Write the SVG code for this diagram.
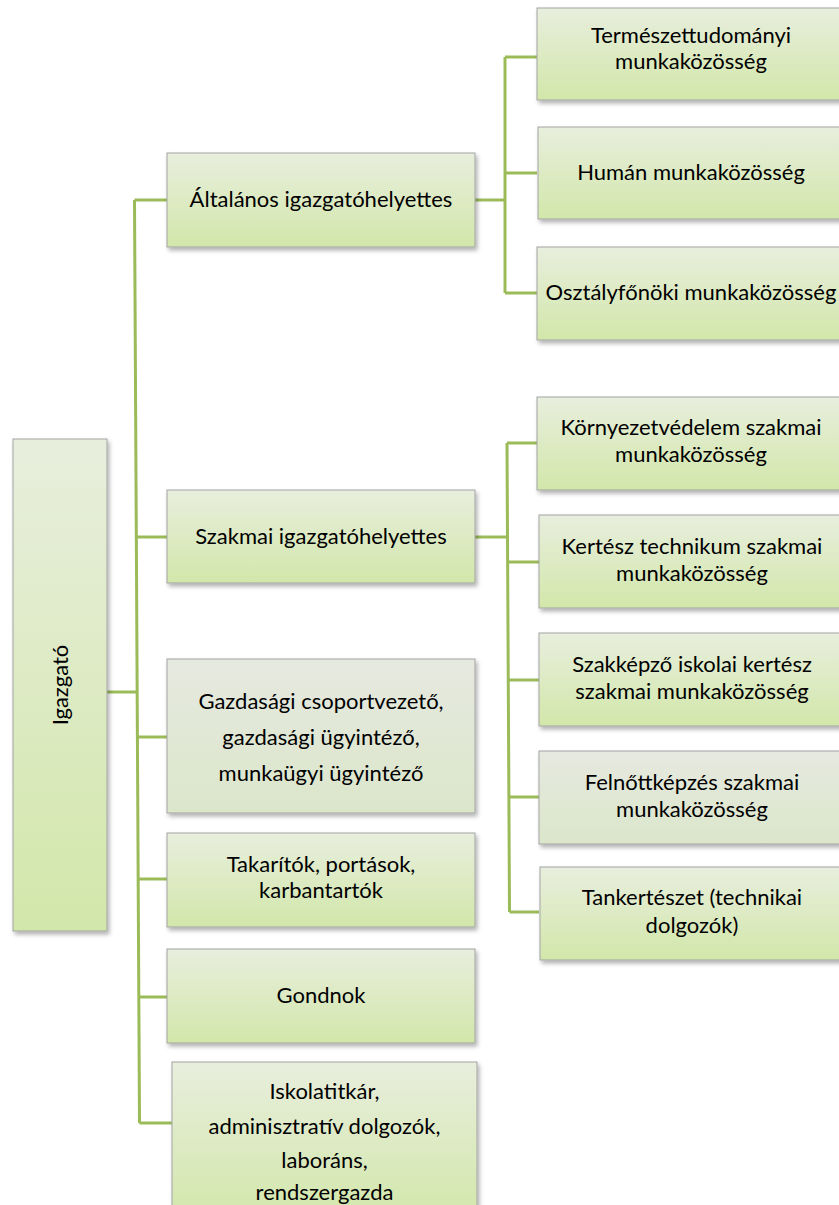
<svg xmlns="http://www.w3.org/2000/svg" width="839" height="1205" viewBox="0 0 839 1205">
<style>
.box{stroke:#a3a3a3;stroke-width:1;filter:url(#sh)}
.t{font-family:Lato,"Liberation Sans",sans-serif;font-size:22px;fill:#000;text-anchor:middle}
.c{stroke:#9bbb59;stroke-width:3;fill:none}
</style>
<defs>
<linearGradient id="g1" x1="0" y1="0" x2="0" y2="1"><stop offset="0" stop-color="#e8eedd"/><stop offset="1" stop-color="#d2e7aa"/></linearGradient>
<linearGradient id="g2" x1="0" y1="0" x2="0" y2="1"><stop offset="0" stop-color="#e6e9e0"/><stop offset="1" stop-color="#dbe6ca"/></linearGradient>
<filter id="sh" x="-10%" y="-10%" width="130%" height="130%"><feDropShadow dx="2" dy="3" stdDeviation="2" flood-color="#000" flood-opacity="0.3"/></filter>
</defs>
<g id="connectors">
<path class="c" d="M107 692H138"/>
<path class="c" d="M134.5 200L139.5 1123"/>
<path class="c" d="M134.5 200H167M136 537H167M137 737H167M138.5 879H167M139 997H167M139.5 1123H172"/>
<path class="c" d="M475 200H505M505 57V293M505 57H537M505 173H537M505 293H537"/>
<path class="c" d="M475 537H507M507 443L509.5 912M507 443H537M507.5 562H539M508 680H539M509 797H539M509.5 912H539"/>
</g>
<g id="igazgato"><rect class="box" x="13" y="439" width="94" height="492" fill="url(#g1)"/><text class="t" transform="translate(68,685) rotate(-90)">Igazgató</text></g>
<g id="altalanos"><rect class="box" x="167" y="153" width="308" height="94" fill="url(#g1)"/><text class="t" x="321" y="207">Általános igazgatóhelyettes</text></g>
<g id="szakmai"><rect class="box" x="167" y="490" width="308" height="93" fill="url(#g1)"/><text class="t" x="321" y="544">Szakmai igazgatóhelyettes</text></g>
<g id="gazdasagi"><rect class="box" x="167" y="659" width="308" height="154" fill="url(#g2)"/><text class="t" x="321" y="709">Gazdasági csoportvezető,</text><text class="t" x="321" y="745">gazdasági ügyintéző,</text><text class="t" x="321" y="781">munkaügyi ügyintéző</text></g>
<g id="takaritok"><rect class="box" x="167" y="833" width="308" height="94" fill="url(#g1)"/><text class="t" x="321" y="872">Takarítók, portások,</text><text class="t" x="321" y="898">karbantartók</text></g>
<g id="gondnok"><rect class="box" x="167" y="949" width="308" height="94" fill="url(#g1)"/><text class="t" x="321" y="1003">Gondnok</text></g>
<g id="iskolatitkar"><rect class="box" x="172" y="1062" width="305" height="160" fill="url(#g1)"/><text class="t" x="324.5" y="1099">Iskolatitkár,</text><text class="t" x="324.5" y="1134">adminisztratív dolgozók,</text><text class="t" x="324.5" y="1168">laboráns,</text><text class="t" x="324.5" y="1200">rendszergazda</text></g>
<g id="termeszet"><rect class="box" x="537" y="8" width="308" height="92" fill="url(#g1)"/><text class="t" x="691" y="43">Természettudományi</text><text class="t" x="691" y="69">munkaközösség</text></g>
<g id="human"><rect class="box" x="538" y="127" width="308" height="92" fill="url(#g1)"/><text class="t" x="691" y="180">Humán munkaközösség</text></g>
<g id="osztalyfonoki"><rect class="box" x="537" y="247" width="308" height="93" fill="url(#g1)"/><text class="t" x="691" y="300">Osztályfőnöki munkaközösség</text></g>
<g id="kornyezet"><rect class="box" x="537" y="397" width="308" height="93" fill="url(#g1)"/><text class="t" x="691" y="435">Környezetvédelem szakmai</text><text class="t" x="691" y="462">munkaközösség</text></g>
<g id="kertesz"><rect class="box" x="539" y="515" width="308" height="93" fill="url(#g1)"/><text class="t" x="692" y="554">Kertész technikum szakmai</text><text class="t" x="692" y="581">munkaközösség</text></g>
<g id="szakkepzo"><rect class="box" x="539" y="633" width="308" height="93" fill="url(#g1)"/><text class="t" x="692" y="672">Szakképző iskolai kertész</text><text class="t" x="692" y="699">szakmai munkaközösség</text></g>
<g id="felnott"><rect class="box" x="539" y="751" width="308" height="93" fill="url(#g2)"/><text class="t" x="692" y="790">Felnőttképzés szakmai</text><text class="t" x="692" y="817">munkaközösség</text></g>
<g id="tankerteszet"><rect class="box" x="540" y="867" width="308" height="93" fill="url(#g1)"/><text class="t" x="692" y="905">Tankertészet (technikai</text><text class="t" x="692" y="933">dolgozók)</text></g>
</svg>
